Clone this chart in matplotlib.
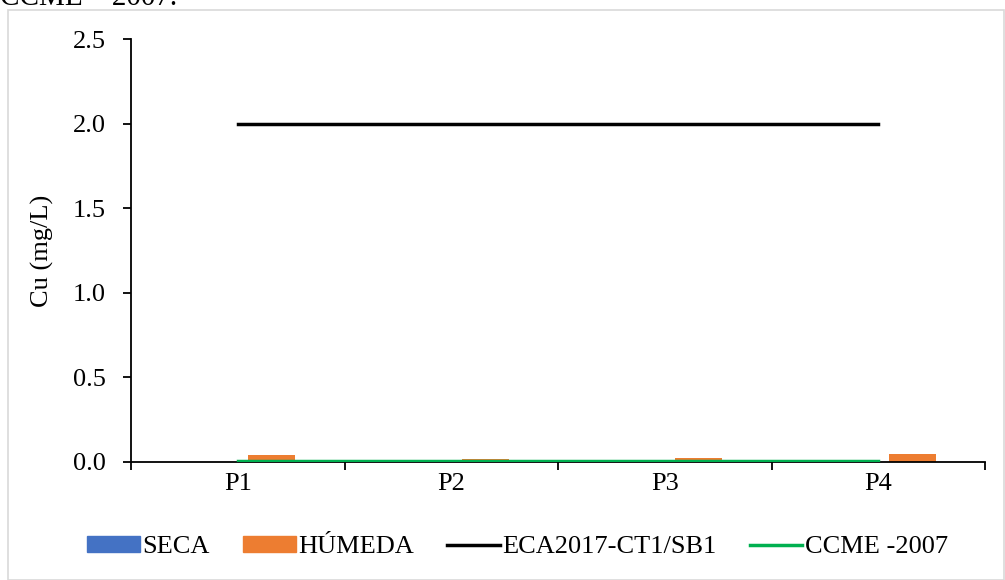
import numpy as np
import matplotlib
matplotlib.use("Agg")
import matplotlib.pyplot as plt
from matplotlib.patches import Rectangle
from matplotlib.lines import Line2D

plt.rcParams['font.family'] = ['Liberation Serif', 'DejaVu Serif']

# data
puntos = ["P1", "P2", "P3", "P4"]
seca = [0.0, 0.0, 0.0, 0.0]
humeda = [0.04, 0.015, 0.025, 0.05]
eca = [2.0, 2.0, 2.0, 2.0]
ccme = [0.004, 0.004, 0.004, 0.004]

col_seca = "#4472C4"
col_hum = "#ED7D31"
col_eca = "#000000"
col_ccme = "#00B050"

fs = 19

fig = plt.figure(figsize=(10.05, 5.8), dpi=100)
ax = fig.add_axes([131/1005, 1-462/580, (985-131)/1005, (462-39)/580])

# light frame around the chart area
fig.patches.append(Rectangle((8/1005, 0), (1004-8)/1005, 1-10/580,
                             transform=fig.transFigure, fill=False,
                             edgecolor="#d9d9d9", linewidth=1.2))

# cut-off caption from the page above
fig.text(0.0, 1-5/580, "CCME – 2007.", fontsize=21, va="baseline", ha="left")

x = np.arange(len(puntos))
w = 0.22
ax.bar(x - 0.16, seca, width=w, color=col_seca, zorder=2)
ax.bar(x + 0.16, humeda, width=w, color=col_hum, zorder=2)
ax.plot(x, eca, color=col_eca, linewidth=2.5, zorder=3)
ax.plot(x, ccme, color=col_ccme, linewidth=2.5, zorder=3)

ax.set_xlim(-0.5, 3.5)
ax.set_ylim(0, 2.5)
ax.set_yticks(np.arange(0, 2.51, 0.5))
ax.set_yticklabels([f"{v:.1f}" for v in np.arange(0, 2.51, 0.5)], fontsize=fs)

ax.set_xticks(x)
ax.set_xticklabels(puntos, fontsize=fs)
ax.set_xticks(np.arange(-0.5, 3.6, 1), minor=True)
ax.tick_params(axis="x", which="major", length=0, pad=8)
ax.tick_params(axis="x", which="minor", length=6, width=1.3, direction="out")
ax.tick_params(axis="y", length=6, width=1.3, direction="out", pad=12)

for s in ["top", "right"]:
    ax.spines[s].set_visible(False)
ax.spines["left"].set_linewidth(1.3)
ax.spines["bottom"].set_linewidth(1.3)

ax.set_ylabel("Cu (mg/L)", fontsize=fs, labelpad=14)

handles = [Rectangle((0, 0), 1, 1, color=col_seca),
           Rectangle((0, 0), 1, 1, color=col_hum),
           Line2D([0], [0], color=col_eca, linewidth=2.5),
           Line2D([0], [0], color=col_ccme, linewidth=2.5)]
labels = ["SECA", "HÚMEDA", "ECA2017-CT1/SB1", "CCME -2007"]
fig.legend(handles, labels, loc="center", bbox_to_anchor=(0.515, 1-547/580),
           ncol=4, frameon=False, fontsize=fs, handlelength=2.0,
           handletextpad=0.1, columnspacing=1.25, handleheight=0.6)

fig.savefig("out.png", dpi=100)
